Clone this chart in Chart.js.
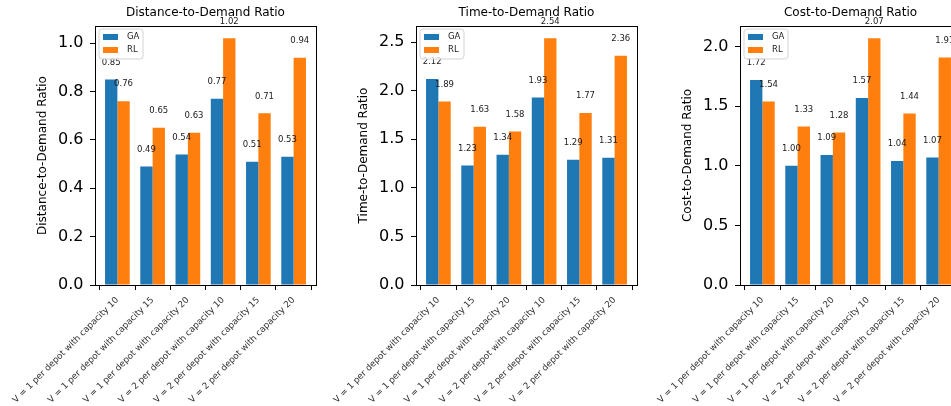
<!DOCTYPE html>
<html><head><meta charset="utf-8">
<script src="https://cdn.jsdelivr.net/npm/chart.js@4/dist/chart.umd.min.js"></script>
<style>
html,body{margin:0;padding:0;background:#fff;}
#wrap{position:relative;width:951px;height:406px;overflow:hidden;background:#fff;}
canvas{position:absolute;top:0;}
</style></head><body>
<div id="wrap">
<canvas id="c1" width="320" height="406" style="left:0px"></canvas>
<canvas id="c2" width="320" height="406" style="left:321px"></canvas>
<canvas id="c3" width="320" height="406" style="left:645px"></canvas>
</div>
<script>
const categories = [
  "V = 1 per depot with capacity 10",
  "V = 1 per depot with capacity 15",
  "V = 1 per depot with capacity 20",
  "V = 2 per depot with capacity 10",
  "V = 2 per depot with capacity 15",
  "V = 2 per depot with capacity 20"
];
const seriesNames = ["GA", "RL"];
const gaDistance = [0.85, 0.49, 0.54, 0.77, 0.51, 0.53];
const rlDistance = [0.76, 0.65, 0.63, 1.02, 0.71, 0.94];
const gaTime = [2.12, 1.23, 1.34, 1.93, 1.29, 1.31];
const rlTime = [1.89, 1.63, 1.58, 2.54, 1.77, 2.36];
const gaCost = [1.72, 1.00, 1.09, 1.57, 1.04, 1.07];
const rlCost = [1.54, 1.33, 1.28, 2.07, 1.44, 1.91];
const yTicksDistance = [0.0, 0.2, 0.4, 0.6, 0.8, 1.0];
const yTicksTime = [0.0, 0.5, 1.0, 1.5, 2.0, 2.5];
const yTicksCost = [0.0, 0.5, 1.0, 1.5, 2.0];
const titles = ["Distance-to-Demand Ratio", "Time-to-Demand Ratio", "Cost-to-Demand Ratio"];

const COLORS = ["#1f77b4", "#ff7f0e"];
const FONT = "DejaVu Sans";
Chart.defaults.font.family = FONT;
Chart.defaults.color = "#000";

const overlay = {
  id: "overlay",
  afterDatasetsDraw(chart) {
    const ctx = chart.ctx;
    ctx.save();
    ctx.font = "8.5px '" + FONT + "'";
    ctx.fillStyle = "#1a1a1a";
    ctx.textAlign = "center";
    ctx.textBaseline = "middle";
    chart.data.datasets.forEach((ds, di) => {
      chart.getDatasetMeta(di).data.forEach((bar, i) => {
        ctx.fillText(ds.data[i].y.toFixed(2), bar.x, bar.y - 17);
      });
    });
    ctx.restore();
  },
  afterDraw(chart) {
    const ctx = chart.ctx;
    const a = chart.chartArea;
    ctx.save();
    ctx.strokeStyle = "#000";
    ctx.lineWidth = 1;
    ctx.strokeRect(Math.round(a.left) + 0.5, Math.round(a.top) + 0.5,
      Math.round(a.right) - Math.round(a.left), Math.round(a.bottom) - Math.round(a.top));
    const lx = Math.round(a.left) + 4, ly = Math.round(a.top) + 3, lw = 44, lh = 30, r = 3;
    ctx.beginPath();
    ctx.moveTo(lx + r, ly);
    ctx.arcTo(lx + lw, ly, lx + lw, ly + lh, r);
    ctx.arcTo(lx + lw, ly + lh, lx, ly + lh, r);
    ctx.arcTo(lx, ly + lh, lx, ly, r);
    ctx.arcTo(lx, ly, lx + lw, ly, r);
    ctx.closePath();
    ctx.fillStyle = "rgba(255,255,255,0.8)";
    ctx.fill();
    ctx.strokeStyle = "#d4d4d4";
    ctx.stroke();
    ctx.font = "8.5px '" + FONT + "'";
    ctx.textAlign = "left";
    ctx.textBaseline = "middle";
    chart.data.datasets.forEach((ds, di) => {
      const cy = ly + 8 + di * 13;
      ctx.fillStyle = ds.backgroundColor;
      ctx.fillRect(lx + 4, cy - 3, 15, 6);
      ctx.fillStyle = "#1a1a1a";
      ctx.fillText(ds.label, lx + 28, cy);
    });
    ctx.restore();
  }
};

function makeChart(id, title, ga, rl, yTicks) {
  const ymax = Math.max(...ga, ...rl) * 1.05;
  new Chart(document.getElementById(id), {
    type: "bar",
    data: {
      datasets: [
        { label: seriesNames[0], data: ga.map((v, i) => ({ x: i, y: v })), backgroundColor: COLORS[0], borderWidth: 0 },
        { label: seriesNames[1], data: rl.map((v, i) => ({ x: i, y: v })), backgroundColor: COLORS[1], borderWidth: 0 }
      ]
    },
    options: {
      responsive: false,
      animation: false,
      devicePixelRatio: 1,
      categoryPercentage: 0.7,
      barPercentage: 1.0,
      layout: { padding: { left: 0, right: 4, top: 0, bottom: 0 } },
      plugins: {
        legend: { display: false },
        tooltip: { enabled: false },
        title: {
          display: true, text: title, fullSize: false, color: "#000",
          font: { family: FONT, size: 12, weight: "normal" },
          padding: { top: 6, bottom: 5.6 }
        }
      },
      scales: {
        x: {
          type: "linear", min: -0.635, max: 5.635, offset: false,
          afterBuildTicks(s) { s.ticks = categories.map((_, i) => ({ value: i })); },
          afterFit(s) { s.height = 121; s.paddingLeft = 0; s.paddingRight = 0; },
          grid: { display: true, drawOnChartArea: false, drawTicks: true, tickLength: 5, color: "#000", lineWidth: 1 },
          border: { display: false },
          ticks: {
            autoSkip: false, minRotation: 45, maxRotation: 45, padding: 5,
            font: { family: FONT, size: 8.8 }, color: "#333",
            callback: (v) => categories[Math.round(v)]
          }
        },
        y: {
          type: "linear", min: 0, max: ymax,
          afterBuildTicks(s) { s.ticks = yTicks.map(v => ({ value: v })); },
          afterFit(s) { s.width = 95; },
          grid: { display: true, drawOnChartArea: false, drawTicks: true, tickLength: 5, color: "#000", lineWidth: 1 },
          border: { display: false },
          ticks: {
            padding: 6.5, font: { family: FONT, size: 16 }, color: "#000",
            callback: (v) => Number(v).toFixed(1)
          },
          title: {
            display: true, text: title, color: "#000",
            font: { family: FONT, size: 12 },
            padding: { top: 36, bottom: 0 }
          }
        }
      }
    },
    plugins: [overlay]
  });
}

makeChart("c1", titles[0], gaDistance, rlDistance, yTicksDistance);
makeChart("c2", titles[1], gaTime, rlTime, yTicksTime);
makeChart("c3", titles[2], gaCost, rlCost, yTicksCost);
</script>
</body></html>
